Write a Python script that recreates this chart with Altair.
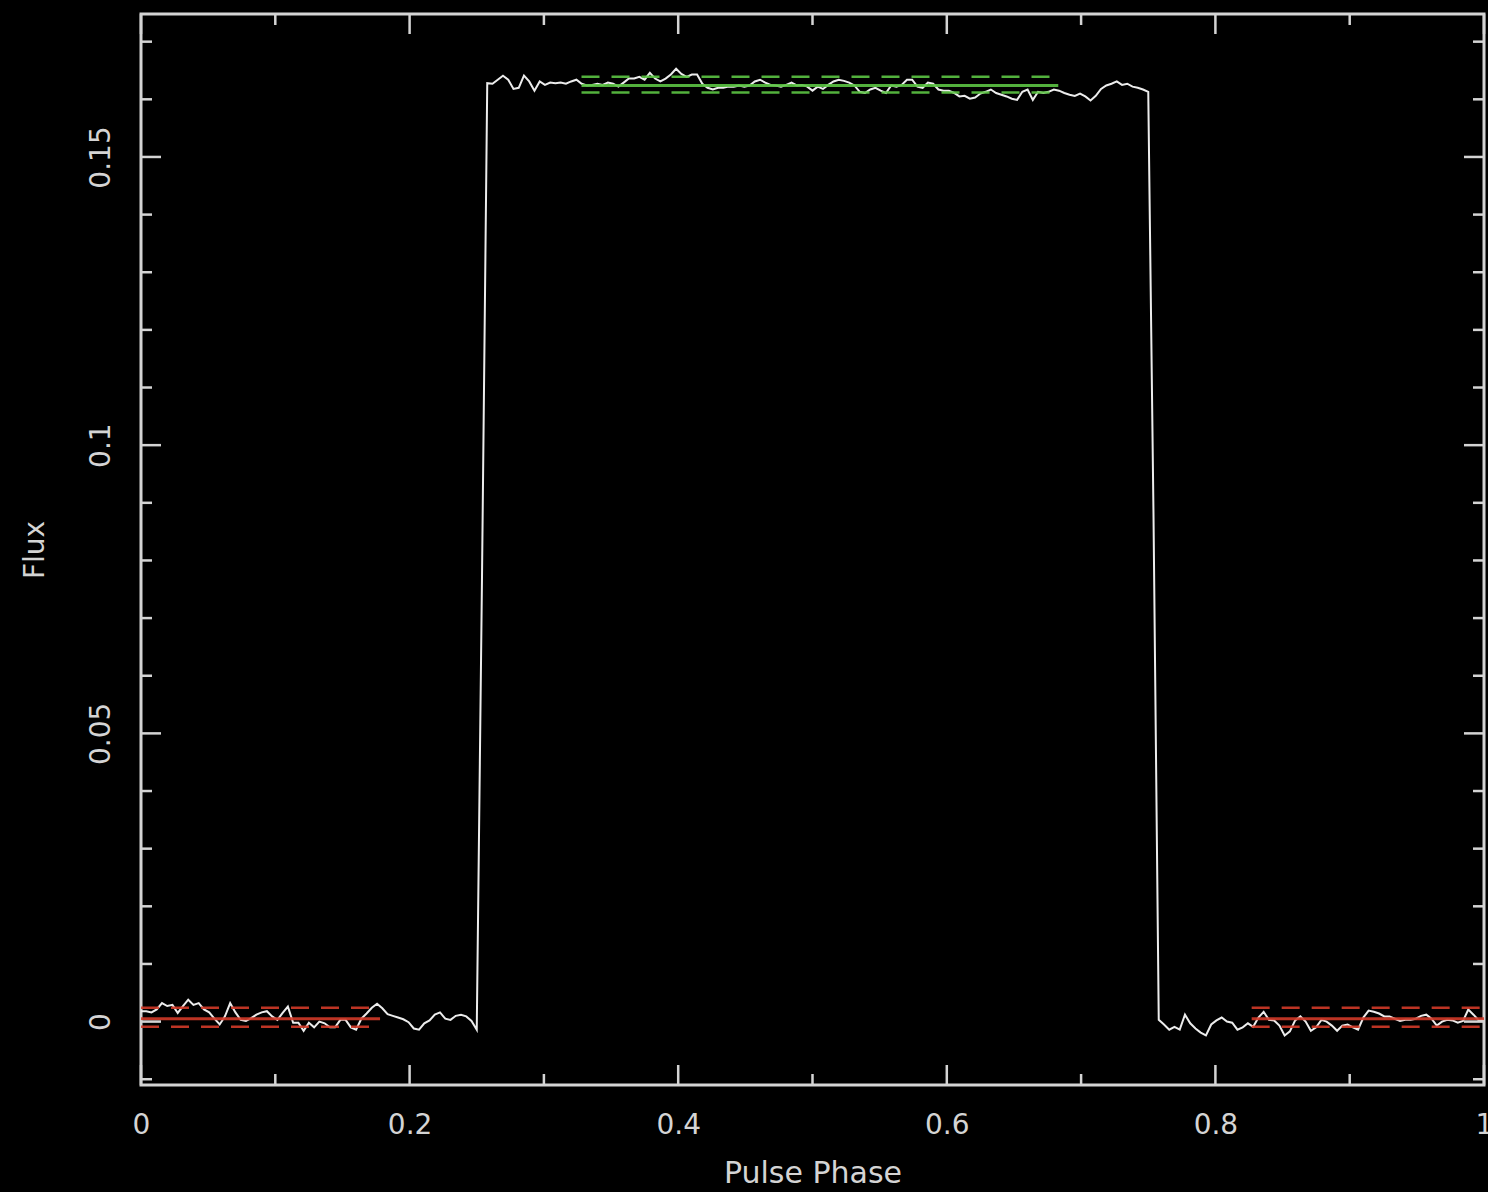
import altair as alt
import pandas as pd

# ---------------- data ----------------
N_BINS = 256
phase = [i / N_BINS for i in range(N_BINS + 1)]

flux = [
    # off-pulse, phase 0 .. 0.25
    0.0018, 0.0018, 0.0016, 0.0021, 0.0032, 0.0027, 0.0029, 0.0015, 0.0027, 0.0038,
    0.0029, 0.0032, 0.0021, 0.0016, 0.0005, -0.0005, 0.0009, 0.0032, 0.0016, 0.0003,
    0.0001, 0.0006, 0.0012, 0.0016, 0.0018, 0.0009, 0.0003, 0.0015, 0.0026, -0.0002,
    -0.0002, -0.0016, -0.0002, -0.0010, 0.0000, -0.0003, -0.0010, -0.0010, 0.0003, 0.0003,
    -0.0010, -0.0014, 0.0005, 0.0014, 0.0024, 0.0031, 0.0023, 0.0013, 0.0010, 0.0007,
    0.0004, -0.0001, -0.0012, -0.0014, -0.0003, 0.0002, 0.0012, 0.0016, 0.0005, 0.0003,
    0.0010, 0.0012, 0.0009, 0.0001, -0.0014,
    # rising edge
    0.0770,
    # on-pulse
    0.1628, 0.1627, 0.1634, 0.1641, 0.1634, 0.1618, 0.1620, 0.1641, 0.1631, 0.1615,
    0.1631, 0.1625, 0.1629, 0.1628, 0.1629, 0.1627, 0.1631, 0.1634, 0.1627, 0.1624,
    0.1625, 0.1627, 0.1625, 0.1629, 0.1627, 0.1622, 0.1629, 0.1636, 0.1636, 0.1639,
    0.1634, 0.1646, 0.1636, 0.1631, 0.1636, 0.1643, 0.1653, 0.1644, 0.1639, 0.1643,
    0.1643, 0.1627, 0.1620, 0.1617, 0.1620, 0.1620, 0.1622, 0.1622, 0.1624, 0.1622,
    0.1624, 0.1631, 0.1634, 0.1629, 0.1625, 0.1624, 0.1622, 0.1625, 0.1629, 0.1624,
    0.1625, 0.1622, 0.1615, 0.1622, 0.1618, 0.1625, 0.1631, 0.1634, 0.1632, 0.1629,
    0.1624, 0.1613, 0.1611, 0.1617, 0.1620, 0.1615, 0.1611, 0.1624, 0.1622, 0.1625,
    0.1634, 0.1634, 0.1622, 0.1620, 0.1629, 0.1627, 0.1617, 0.1615, 0.1615, 0.1611,
    0.1605, 0.1606, 0.1601, 0.1603, 0.1610, 0.1613, 0.1617, 0.1611, 0.1608, 0.1605,
    0.1601, 0.1599, 0.1613, 0.1617, 0.1599, 0.1613, 0.1611, 0.1613, 0.1617, 0.1615,
    0.1611, 0.1608, 0.1606, 0.1610, 0.1605, 0.1598, 0.1606, 0.1618, 0.1624, 0.1627,
    0.1631, 0.1625, 0.1627, 0.1622, 0.1620, 0.1617, 0.1613,
    # falling edge
    0.0880,
    # off-pulse, phase 0.758 .. 1
    0.0003, -0.0005, -0.0014, -0.0009, -0.0014, 0.0012, -0.0003, -0.0012, -0.0019, -0.0024,
    -0.0005, 0.0002, 0.0007, 0.0000, -0.0002, -0.0014, -0.0010, -0.0003, -0.0009, 0.0007,
    0.0017, 0.0003, 0.0002, -0.0007, -0.0024, -0.0017, 0.0002, 0.0009, 0.0000, -0.0016,
    -0.0010, 0.0003, 0.0000, -0.0007, -0.0016, -0.0007, -0.0005, -0.0010, -0.0014, 0.0007,
    0.0019, 0.0017, 0.0014, 0.0009, 0.0009, 0.0005, 0.0001, 0.0003, 0.0003, 0.0005,
    0.0010, 0.0012, 0.0005, -0.0007, 0.0000, 0.0003, 0.0002, -0.0002, 0.0001, 0.0021,
    0.0012, 0.0002, 0.0003,
]
assert len(flux) == len(phase), (len(flux), len(phase))

# off-pulse (red) and on-pulse (green) level estimates
off_start = [0.0, 0.827]
off_end = [0.178, 1.0]
off_levels = [0.0005, -0.0009, 0.0024]   # mean, low, high
on_start = [0.328]
on_end = [0.683]
on_levels = [0.1624, 0.1612, 0.1639]     # mean, low, high

x_major = [0, 0.2, 0.4, 0.6, 0.8, 1.0]
x_minor = [0.1, 0.3, 0.5, 0.7, 0.9]
y_major = [0, 0.05, 0.1, 0.15]
y_minor = [-0.01, 0.01, 0.02, 0.03, 0.04, 0.06, 0.07, 0.08, 0.09,
           0.11, 0.12, 0.13, 0.14, 0.16, 0.17]

# ---------------- build ----------------
W, H = 1343, 1071
FG = "#d4d4d4"
RED = "#d23a28"
GREEN = "#5cc444"
FONT = "DejaVu Sans"

xs = alt.Scale(domain=[0, 1], nice=False, zero=False)
ys = alt.Scale(domain=[-0.011, 0.1748], nice=False, zero=False)

X_AX = alt.Axis(
    values=x_major, format="~g", ticks=False, domain=False, grid=False,
    labelFont=FONT, labelFontSize=28, labelColor=FG, labelPadding=26,
    labelFlush=False, labelOverlap=False, labelBound=False,
    title="Pulse Phase", titleFont=FONT, titleFontSize=30,
    titleFontWeight="normal", titleColor=FG, titlePadding=19)
Y_AX = alt.Axis(
    values=y_major, format="~g", ticks=False, domain=False, grid=False,
    labelFont=FONT, labelFontSize=28, labelColor=FG, labelPadding=26,
    labelAngle=270, labelFlush=False, labelOverlap=False, labelBound=False,
    title="Flux", titleFont=FONT, titleFontSize=28,
    titleFontWeight="normal", titleColor=FG, titlePadding=38)

rows = []
for a, b in zip(off_start, off_end):
    for k, lv in enumerate(off_levels):
        rows.append({"x0": a, "x1": b, "lv": lv, "dash": k > 0, "col": RED})
for a, b in zip(on_start, on_end):
    for k, lv in enumerate(on_levels):
        rows.append({"x0": a, "x1": b, "lv": lv, "dash": k > 0, "col": GREEN})
seg = pd.DataFrame(rows)

line_df = pd.DataFrame({"phase": phase, "flux": flux})

line = alt.Chart(line_df).mark_line(color="#ececec", strokeWidth=2).encode(
    x=alt.X("phase:Q", scale=xs, axis=X_AX),
    y=alt.Y("flux:Q", scale=ys, axis=Y_AX),
)

solid = alt.Chart(seg).transform_filter("!datum.dash").mark_rule(
    strokeWidth=3, opacity=0.9).encode(
    x=alt.X("x0:Q", scale=xs, axis=X_AX), x2="x1:Q",
    y=alt.Y("lv:Q", scale=ys, axis=Y_AX),
    color=alt.Color("col:N", scale=None),
)
dashed = alt.Chart(seg).transform_filter("datum.dash").mark_rule(
    strokeWidth=2.5, strokeDash=[18, 12], opacity=0.9).encode(
    x=alt.X("x0:Q", scale=xs, axis=X_AX), x2="x1:Q",
    y=alt.Y("lv:Q", scale=ys, axis=Y_AX),
    color=alt.Color("col:N", scale=None),
)


def xticks(vals, length):
    d = pd.DataFrame({"v": vals})
    bot = alt.Chart(d).mark_rule(color=FG, strokeWidth=2.5).encode(
        x=alt.X("v:Q", scale=xs, axis=X_AX), y=alt.value(H), y2=alt.value(H - length))
    top = alt.Chart(d).mark_rule(color=FG, strokeWidth=2.5).encode(
        x=alt.X("v:Q", scale=xs, axis=X_AX), y=alt.value(0), y2=alt.value(length))
    return [bot, top]


def yticks(vals, length):
    d = pd.DataFrame({"v": vals})
    left = alt.Chart(d).mark_rule(color=FG, strokeWidth=2.5).encode(
        y=alt.Y("v:Q", scale=ys, axis=Y_AX), x=alt.value(0), x2=alt.value(length))
    right = alt.Chart(d).mark_rule(color=FG, strokeWidth=2.5).encode(
        y=alt.Y("v:Q", scale=ys, axis=Y_AX), x=alt.value(W), x2=alt.value(W - length))
    return [left, right]


layers = [line, solid, dashed]
layers += xticks(x_major, 20) + xticks(x_minor, 11)
layers += yticks(y_major, 20) + yticks(y_minor, 11)

chart = alt.layer(*layers).properties(
    width=W, height=H,
    background="black",
    autosize=alt.AutoSizeParams(type="none"),
    padding={"left": 141, "top": 14, "right": 4, "bottom": 107},
).configure_view(stroke=FG, strokeWidth=3)

chart.save("out.html", embed_options={"renderer": "svg", "actions": False})
